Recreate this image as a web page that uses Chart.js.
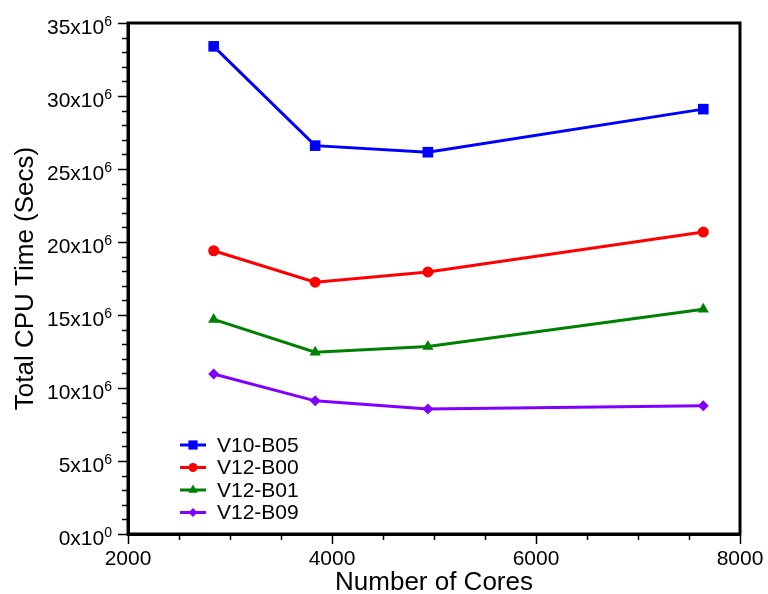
<!DOCTYPE html>
<html>
<head>
<meta charset="utf-8">
<script src="https://cdn.jsdelivr.net/npm/chart.js@4/dist/chart.umd.min.js"></script>
<style>
  html, body { margin: 0; padding: 0; background: #fff; }
  #c { display: block; }
</style>
</head>
<body>
<canvas id="c" width="768" height="594"></canvas>
<script>
// Datos
const cores = [2840, 3835, 4940, 7640];
const v10b05 = [33.4e6, 26.6e6, 26.15e6, 29.1e6];
const v12b00 = [19.4e6, 17.25e6, 17.95e6, 20.68e6];
const v12b01 = [14.7e6, 12.45e6, 12.85e6, 15.4e6];
const v12b09 = [10.96e6, 9.12e6, 8.56e6, 8.78e6];
const seriesNames = ['V10-B05', 'V12-B00', 'V12-B01', 'V12-B09'];
const seriesColors = ['#0000ff', '#ff0000', '#008000', '#8000ff'];
const seriesPoints = ['rect', 'circle', 'triangle', 'rectRot'];
const seriesRadius = [7.5, 5.5, 6.5, 5.5];

const FONT = "'Liberation Sans', Arial, Helvetica, sans-serif";

function mkSet(i, vals) {
    return {
        label: seriesNames[i],
        data: cores.map((x, k) => ({ x: x, y: vals[k] })),
        borderColor: seriesColors[i],
        backgroundColor: seriesColors[i],
        pointStyle: seriesPoints[i],
        pointRadius: seriesRadius[i],
        pointBorderWidth: 0,
        borderWidth: 3,
        tension: 0
    };
}

// Marco, ticks menores, etiquetas del eje y (con exponente) y leyenda
const extras = {
    id: 'extras',
    afterDraw(chart) {
        const ctx = chart.ctx;
        const a = chart.chartArea;
        const xs = chart.scales.x, ys = chart.scales.y;
        ctx.save();
        ctx.strokeStyle = '#000';
        ctx.lineWidth = 1.5;
        for (let v = 2500; v < 8000; v += 500) {
            if (v % 2000 === 0) continue;
            const px = Math.round(xs.getPixelForValue(v)) + 0.5;
            ctx.beginPath(); ctx.moveTo(px, a.bottom); ctx.lineTo(px, a.bottom + 6); ctx.stroke();
        }
        for (let v = 1e6; v < 35e6; v += 1e6) {
            if (v % 5e6 === 0) continue;
            const py = Math.round(ys.getPixelForValue(v)) + 0.5;
            ctx.beginPath(); ctx.moveTo(a.left, py); ctx.lineTo(a.left - 6, py); ctx.stroke();
        }
        ctx.lineWidth = 3;
        ctx.strokeRect(a.left, a.top, a.right - a.left, a.bottom - a.top);

        // etiquetas y: "35x10" + superíndice
        ctx.fillStyle = '#000';
        ctx.textBaseline = 'alphabetic';
        ctx.textAlign = 'right';
        ys.ticks.forEach(t => {
            const py = ys.getPixelForValue(t.value);
            const base = (t.value / 1e6) + 'x10';
            const exp = t.value === 0 ? '0' : '6';
            const xr = a.left - 16;
            ctx.font = '14px ' + FONT;
            const ew = ctx.measureText(exp).width;
            ctx.fillText(exp, xr, py + 3);
            ctx.font = '21px ' + FONT;
            ctx.fillText(base, xr - ew, py + 11);
        });

        // leyenda
        ctx.textAlign = 'left';
        ctx.font = '21px ' + FONT;
        ctx.textBaseline = 'middle';
        chart.data.datasets.forEach((ds, i) => {
            const y = a.bottom - 89 + i * 22.5;
            const x0 = a.left + 52;
            ctx.strokeStyle = ds.borderColor;
            ctx.lineWidth = 3;
            ctx.beginPath(); ctx.moveTo(x0, y); ctx.lineTo(x0 + 26, y); ctx.stroke();
            ctx.fillStyle = ds.backgroundColor;
            Chart.helpers.drawPoint(ctx, { pointStyle: ds.pointStyle, radius: ds.pointRadius - 1, rotation: 0, borderWidth: 0 }, x0 + 13, y);
            ctx.fillStyle = '#000';
            ctx.fillText(ds.label, x0 + 37, y + 1);
        });
        ctx.restore();
    }
};

new Chart(document.getElementById('c').getContext('2d'), {
    type: 'line',
    data: {
        datasets: [mkSet(0, v10b05), mkSet(1, v12b00), mkSet(2, v12b01), mkSet(3, v12b09)]
    },
    options: {
        responsive: false,
        animation: false,
        layout: { padding: { top: 23, right: 28, left: 10, bottom: 0 } },
        plugins: { legend: { display: false }, tooltip: { enabled: false } },
        scales: {
            x: {
                type: 'linear',
                min: 2000, max: 8000,
                afterFit: s => { s.height = 60; },
                border: { display: true, color: '#000', width: 3 },
                grid: { drawOnChartArea: false, color: '#000', tickLength: 10, tickWidth: 1.5 },
                ticks: { stepSize: 2000, color: '#000', padding: 3, font: { family: FONT, size: 21 }, callback: v => String(v) },
                title: { display: true, text: 'Number of Cores', color: '#000', padding: { top: 0, bottom: -4 }, font: { family: FONT, size: 26 } }
            },
            y: {
                type: 'linear',
                min: 0, max: 35e6,
                afterFit: s => { s.width = 118; },
                border: { display: true, color: '#000', width: 3 },
                grid: { drawOnChartArea: false, color: '#000', tickLength: 10, tickWidth: 1.5 },
                ticks: { stepSize: 5e6, display: false },
                title: { display: true, text: 'Total CPU Time (Secs)', color: '#000', padding: { top: 0, bottom: 0 }, font: { family: FONT, size: 26 } }
            }
        }
    },
    plugins: [extras]
});
</script>
</body>
</html>
